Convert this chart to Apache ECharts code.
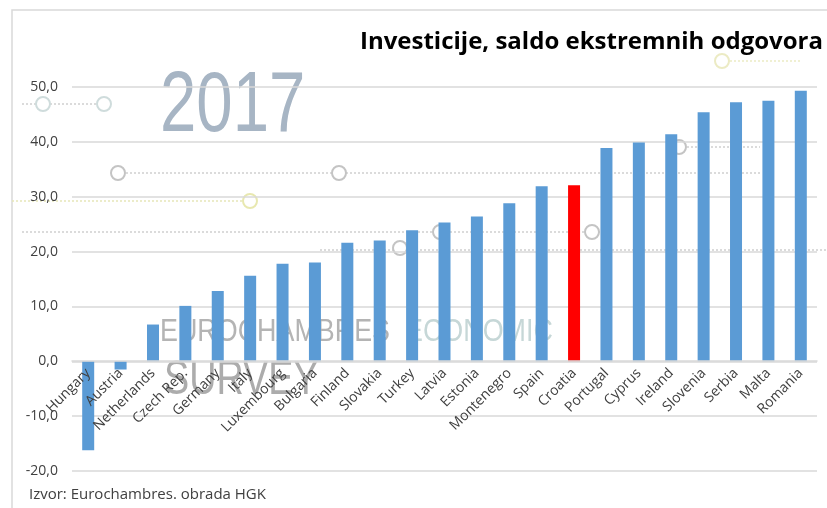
<!DOCTYPE html>
<html>
<head>
<meta charset="utf-8">
<script src="https://cdn.jsdelivr.net/npm/echarts@6/dist/echarts.min.js"></script>
<style>html,body{margin:0;padding:0;background:#fff;}#c{width:827px;height:508px;}</style>
</head>
<body>
<div id="c"></div>
<script>
var categories = ['Hungary','Austria','Netherlands','Czech Rep.','Germany','Italy','Luxembourg','Bulgaria','Finland','Slovakia','Turkey','Latvia','Estonia','Montenegro','Spain','Croatia','Portugal','Cyprus','Ireland','Slovenia','Serbia','Malta','Romania'];
var values = [-16.2,-1.5,6.7,10.1,12.8,15.6,17.8,18.0,21.6,22.0,23.9,25.3,26.4,28.8,31.9,32.1,38.9,39.9,41.4,45.4,47.2,47.5,49.3];
var highlight = 'Croatia';
var yTicks = {min: -20, max: 50, interval: 10};
var titleText = 'Investicije, saldo ekstremnih odgovora';
var sourceText = 'Izvor: Eurochambres. obrada HGK';

var chart = echarts.init(document.getElementById('c'));

function dotted(x1, x2, y, color) {
  return {type:'line', z:-10, silent:true, shape:{x1:x1,y1:y,x2:x2,y2:y}, style:{stroke:color||'#cfcfcf', lineWidth:1.5, lineDash:[2,2]}};
}
function ring(x, y, color) {
  return {type:'circle', z:-9, silent:true, shape:{cx:x,cy:y,r:7}, style:{fill:'#fff', stroke:color||'#c4c4c4', lineWidth:2}};
}

var decor = [
  {type:'rect', z:-20, silent:true, shape:{x:12,y:10,width:830,height:520}, style:{fill:'#fff', stroke:'#d9d9d9', lineWidth:1.5}},
  dotted(22,105,104), ring(43,104,'#cfdcdc'), ring(104,104,'#cfdcdc'),
  dotted(118,760,173), ring(118,173), ring(339,173),
  dotted(12,250,201,'#e6e6b8'), ring(250,201,'#e8e8b0'),
  dotted(22,600,232), ring(440,232), ring(592,232),
  dotted(320,827,250), ring(400,248),
  dotted(679,760,147), ring(679,147),
  dotted(722,800,61,'#ecebc4'), ring(722,61,'#ecebc4'),
  {type:'text', z:-5, silent:true, x:160, y:64, scaleX:0.76, style:{text:'2017', font:'86px "Liberation Sans"', fill:'#a7b5c4'}},
  {type:'text', z:-5, silent:true, x:160, y:316, scaleX:0.84, style:{text:'EUROCHAMBRES', font:'32px "Liberation Sans"', fill:'#b4b4b4'}},
  {type:'text', z:-5, silent:true, x:405, y:316, scaleX:0.84, style:{text:'ECONOMIC', font:'32px "Liberation Sans"', fill:'#c6d7d7'}},
  {type:'text', z:-5, silent:true, x:164, y:356, scaleX:0.77, style:{text:'SURVEY', font:'49px "Liberation Sans"', fill:'#acacac'}},
  {type:'text', z:10, x:823, y:30, style:{text:titleText, font:'bold 24px "Open Sans"', fill:'#000', align:'right'}},
  {type:'text', z:10, x:29, y:487, style:{text:sourceText, font:'15px "Open Sans"', fill:'#404040'}}
];

chart.setOption({
  animation:false,
  backgroundColor:'#fff',
  graphic: decor,
  grid:{left:72, right:10, top:87, bottom:37, outerBoundsMode:'none', containLabel:false},
  xAxis:{
    type:'category', data:categories, position:'bottom', offset:-110, z:10,
    axisLine:{onZero:false, lineStyle:{color:'#d9d9d9', width:1.5}},
    axisTick:{show:false},
    axisLabel:{rotate:45, interval:0, margin:10, fontFamily:'Open Sans', fontSize:14, color:'#404040'}
  },
  yAxis:{
    type:'value', min:yTicks.min, max:yTicks.max, interval:yTicks.interval,
    axisLine:{show:false}, axisTick:{show:false},
    splitLine:{lineStyle:{color:'#d9d9d9', width:1.5}},
    axisLabel:{fontFamily:'Open Sans', fontSize:14, color:'#404040', margin:14,
      formatter:function(v){return v.toFixed(1).replace('.', ',');}}
  },
  series:[{
    type:'bar', barWidth:12, z:2,
    data: values.map(function(v,i){
      return {value:v, itemStyle:{color: categories[i]===highlight ? '#ff0000' : '#5b9bd5'}};
    })
  }]
});
</script>
</body>
</html>
